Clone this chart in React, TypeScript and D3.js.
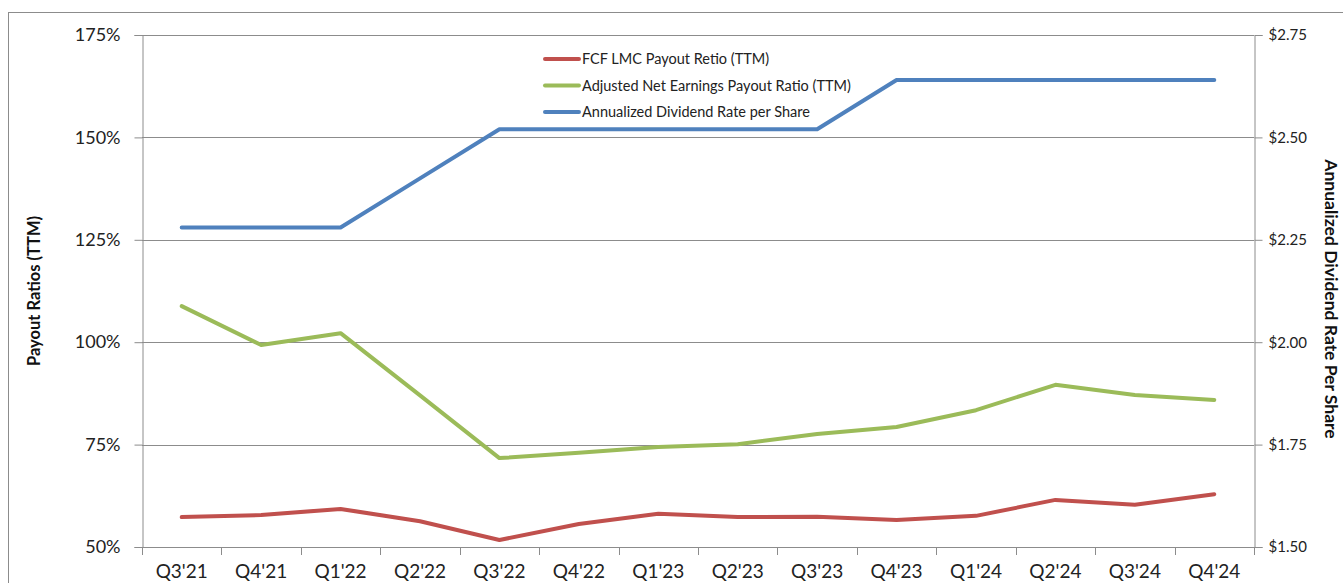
import React, { useEffect, useRef } from "react";
import * as d3 from "d3";

// Chart data
const quarters = [
  "Q3'21", "Q4'21", "Q1'22", "Q2'22", "Q3'22", "Q4'22", "Q1'23",
  "Q2'23", "Q3'23", "Q4'23", "Q1'24", "Q2'24", "Q3'24", "Q4'24",
];
const fcfPayout = [57.3, 57.8, 59.3, 56.3, 51.7, 55.6, 58.1, 57.3, 57.4, 56.6, 57.6, 61.5, 60.3, 62.9];
const netEarningsPayout = [108.8, 99.3, 102.2, 87.0, 71.7, 73.0, 74.4, 75.1, 77.6, 79.3, 83.4, 89.6, 87.1, 85.9];
const dividendRate = [2.28, 2.28, 2.28, 2.40, 2.52, 2.52, 2.52, 2.52, 2.52, 2.64, 2.64, 2.64, 2.64, 2.64];
const leftTicks = [50, 75, 100, 125, 150, 175];
const rightTicks = [1.5, 1.75, 2.0, 2.25, 2.5, 2.75];
const legendLabels = [
  "FCF LMC Payout Retio (TTM)",
  "Adjusted Net Earnings Payout Ratio (TTM)",
  "Annualized Dividend Rate per Share",
];

const App = () => {
  const svgRef = useRef();

  useEffect(() => {
    const width = 1343;
    const height = 583;
    const marginLeft = 142;
    const marginRight = 89;
    const marginTop = 35;
    const marginBottom = 36;
    const font = "Lato, 'Open Sans', sans-serif";
    const gridColor = "#8c8c8c";
    const colors = ["#C0504D", "#9BBB59", "#4F81BD"];

    const svg = d3.select(svgRef.current)
      .attr("width", width)
      .attr("height", height)
      .attr("viewBox", `0 0 ${width} ${height}`)
      .style("position", "absolute")
      .style("left", 0)
      .style("top", 0)
      .style("background", "#fff");

    svg.selectAll("*").remove();

    const x = d3.scaleBand()
      .domain(quarters)
      .range([marginLeft, width - marginRight]);

    const yLeft = d3.scaleLinear()
      .domain([50, 175])
      .range([height - marginBottom, marginTop]);

    const yRight = d3.scaleLinear()
      .domain([1.5, 2.75])
      .range([height - marginBottom, marginTop]);

    // outer chart border
    svg.append("rect")
      .attr("x", 8.5)
      .attr("y", 12.5)
      .attr("width", width)
      .attr("height", height)
      .attr("fill", "none")
      .attr("stroke", gridColor);

    // gridlines
    svg.append("g")
      .selectAll("line")
      .data(leftTicks)
      .join("line")
      .attr("x1", marginLeft)
      .attr("x2", width - marginRight)
      .attr("y1", d => Math.round(yLeft(d)) + 0.5)
      .attr("y2", d => Math.round(yLeft(d)) + 0.5)
      .attr("stroke", gridColor);

    // left axis
    const leftAxis = svg.append("g")
      .attr("transform", `translate(${marginLeft + 0.5},0)`)
      .call(d3.axisLeft(yLeft).tickValues(leftTicks).tickSize(8).tickPadding(14)
        .tickFormat(d => `${d}%`));
    leftAxis.selectAll("text")
      .attr("font-family", font)
      .attr("font-size", 18)
      .attr("fill", "#222");

    // right axis
    const rightAxis = svg.append("g")
      .attr("transform", `translate(${width - marginRight + 0.5},0)`)
      .call(d3.axisRight(yRight).tickValues(rightTicks).tickSize(8).tickPadding(6)
        .tickFormat(d => `$${d3.format(".2f")(d)}`));
    rightAxis.selectAll("text")
      .attr("font-family", font)
      .attr("font-size", 15)
      .attr("fill", "#222");

    // bottom axis: ticks at category boundaries
    const boundaries = quarters.map(q => x(q)).concat([width - marginRight]);
    svg.append("g")
      .selectAll("line")
      .data(boundaries)
      .join("line")
      .attr("x1", d => Math.round(d) + 0.5)
      .attr("x2", d => Math.round(d) + 0.5)
      .attr("y1", height - marginBottom)
      .attr("y2", height - marginBottom + 8)
      .attr("stroke", gridColor);

    svg.append("g")
      .selectAll("text")
      .data(quarters)
      .join("text")
      .attr("x", d => x(d) + x.bandwidth() / 2)
      .attr("y", height - 5)
      .attr("text-anchor", "middle")
      .attr("font-family", font)
      .attr("font-size", 19)
      .attr("fill", "#222")
      .text(d => d);

    svg.selectAll(".domain").attr("stroke", gridColor);
    svg.selectAll(".tick line").attr("stroke", gridColor);

    // axis titles
    svg.append("text")
      .attr("transform", `translate(40,${(marginTop + height - marginBottom) / 2}) rotate(-90)`)
      .attr("text-anchor", "middle")
      .attr("font-family", font)
      .attr("font-weight", "bold")
      .attr("font-size", 16.5)
      .attr("fill", "#111")
      .text("Payout Ratios (TTM)");

    svg.append("text")
      .attr("transform", `translate(1325,${(marginTop + height - marginBottom) / 2 + 8}) rotate(90)`)
      .attr("text-anchor", "middle")
      .attr("font-family", font)
      .attr("font-weight", "bold")
      .attr("font-size", 17.5)
      .attr("fill", "#111")
      .text("Annualized Dividend Rate Per Share");

    // series lines
    const cx = (i) => x(quarters[i]) + x.bandwidth() / 2;
    const leftLine = d3.line().x((d, i) => cx(i)).y(d => yLeft(d));
    const rightLine = d3.line().x((d, i) => cx(i)).y(d => yRight(d));

    const series = [
      { values: fcfPayout, line: leftLine },
      { values: netEarningsPayout, line: leftLine },
      { values: dividendRate, line: rightLine },
    ];

    svg.append("g")
      .selectAll("path")
      .data(series)
      .join("path")
      .attr("d", d => d.line(d.values))
      .attr("fill", "none")
      .attr("stroke", (d, i) => colors[i])
      .attr("stroke-width", 4)
      .attr("stroke-linejoin", "round")
      .attr("stroke-linecap", "round");

    // legend
    const legend = svg.append("g")
      .attr("transform", "translate(545,59)");
    const rows = legend.selectAll("g")
      .data(legendLabels)
      .join("g")
      .attr("transform", (d, i) => `translate(0,${i * 26.5})`);
    rows.append("line")
      .attr("x1", 0)
      .attr("x2", 34)
      .attr("stroke", (d, i) => colors[i])
      .attr("stroke-width", 4)
      .attr("stroke-linecap", "round");
    rows.append("text")
      .attr("x", 37)
      .attr("dy", "0.35em")
      .attr("font-family", font)
      .attr("font-size", 14.5)
      .attr("fill", "#222")
      .text(d => d);
  }, []);

  return <svg ref={svgRef}></svg>;
};

export default App;
